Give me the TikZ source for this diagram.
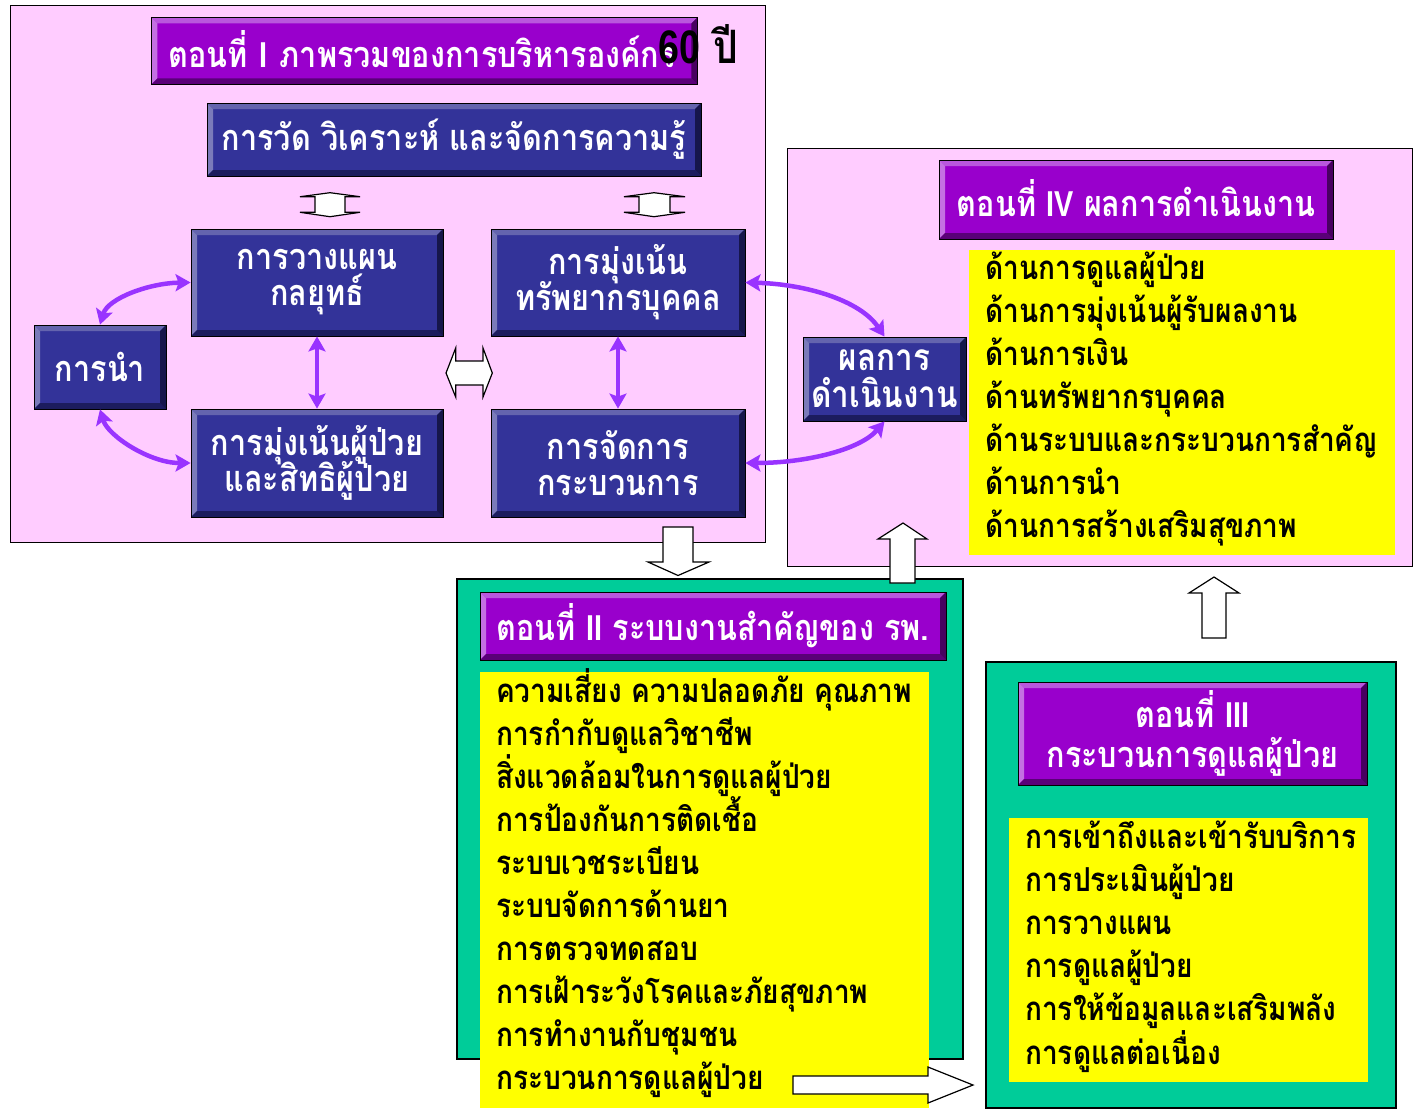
\documentclass[tikz,border=0pt]{standalone}
\usepackage{fontspec}
\newfontfamily\thai[Script=Thai,FakeStretch=0.85]{Loma}
\newfontfamily\latin[FakeStretch=0.8]{Liberation Sans}
\usetikzlibrary{arrows.meta,calc}
\lineskiplimit=-1000pt
\newcommand\rn[1]{{\latin\bfseries #1}}

\definecolor{pinkbg}{HTML}{FFCCFF}
\definecolor{navy}{HTML}{333399}
\definecolor{navylt}{HTML}{6464AE}
\definecolor{navydk}{HTML}{1C1C5E}
\definecolor{purp}{HTML}{9900CC}
\definecolor{purplt}{HTML}{B957DD}
\definecolor{purpdk}{HTML}{5A0078}
\definecolor{panelgreen}{HTML}{00CC99}
\definecolor{hiyellow}{HTML}{FFFF00}
\definecolor{linkpurple}{HTML}{9933FF}

\tikzset{
  bevel/.style n args={3}{
    fill=#1, draw=black, line width=0.8pt, inner sep=0pt,
    path picture={
      \coordinate (nw) at (path picture bounding box.north west);
      \coordinate (ne) at (path picture bounding box.north east);
      \coordinate (se) at (path picture bounding box.south east);
      \coordinate (sw) at (path picture bounding box.south west);
      \fill[#2] (nw) -- (ne) -- ($(ne)+(-6,6)$) -- ($(nw)+(6,6)$) -- cycle;
      \fill[#2!85!white] (nw) -- ($(nw)+(6,6)$) -- ($(sw)+(6,-6)$) -- (sw) -- cycle;
      \fill[#3] (sw) -- ($(sw)+(6,-6)$) -- ($(se)+(-6,-6)$) -- (se) -- cycle;
      \fill[#3!80!black] (ne) -- (se) -- ($(se)+(-6,-6)$) -- ($(ne)+(-6,6)$) -- cycle;
    }},
  navybox/.style={bevel={navy}{navylt}{navydk}, text=white, align=center,
    font=\thai\bfseries\fontsize{36}{36}\selectfont},
  purpbox/.style={bevel={purp}{purplt}{purpdk}, text=white, align=center,
    font=\thai\bfseries\fontsize{36}{40}\selectfont},
  pinkpanel/.style={fill=pinkbg, draw=black, line width=1pt},
  greenpanel/.style={fill=panelgreen, draw=black, line width=1.5pt},
  yellowbox/.style={fill=hiyellow, draw=none, inner sep=0pt},
  listline/.style={anchor=base west, inner sep=0pt, text=black,
    font=\thai\bfseries\fontsize{33}{36}\selectfont},
  link/.style={draw=linkpurple, line width=4.5pt,
    {Stealth[length=15pt,width=17pt,inset=3pt]}-{Stealth[length=15pt,width=17pt,inset=3pt]}},
  hollow/.style={fill=white, draw=black, line width=1.2pt, line join=miter},
}

\begin{document}
\begin{tikzpicture}[x=1pt,y=-1pt]
\fill[white] (0,0) rectangle (1413,1112);
\useasboundingbox (0,0) rectangle (1413,1112);

% panels
\node[pinkpanel, anchor=north west, minimum width=755pt, minimum height=537pt] (part1) at (10,5) {};
\node[pinkpanel, anchor=north west, minimum width=625pt, minimum height=418pt] (part4) at (787,148) {};
\node[greenpanel, anchor=north west, minimum width=506pt, minimum height=480pt] (part2) at (456,578) {};
\node[greenpanel, anchor=north west, minimum width=410pt, minimum height=446pt] (part3) at (985,661) {};

% part I
\node[purpbox, anchor=north west, minimum width=546pt, minimum height=67pt,
      text width=512pt, align=left] (t1) at (151,17)
      {\raisebox{4pt}{ตอนที่ \rn{I} ภาพรวมของการบริหารองค์กร}};
\node[text=black, inner sep=0pt, font=\thai\bfseries\fontsize{46}{50}\selectfont] (sixty) at (698,44)
      {{\latin\fontsize{47}{50}\selectfont 60} ปี};

\node[navybox, minimum width=494pt, minimum height=73pt] (measure) at (454,139.5) {การวัด วิเคราะห์ และจัดการความรู้};
\node[navybox, minimum width=252pt, minimum height=107pt] (plan) at (317,282.5) {การวางแผน\\กลยุทธ์};
\node[navybox, minimum width=254pt, minimum height=107pt] (hr) at (618,282.5) {การมุ่งเน้น\\ทรัพยากรบุคคล};
\node[navybox, minimum width=132pt, minimum height=84pt] (lead) at (100,367) {การนำ};
\node[navybox, minimum width=252pt, minimum height=108pt] (patient) at (317,463) {การมุ่งเน้นผู้ป่วย\\และสิทธิผู้ป่วย};
\node[navybox, minimum width=254pt, minimum height=108pt] (process) at (618,463) {การจัดการ\\กระบวนการ};
\node[navybox, minimum width=163pt, minimum height=84pt, font=\thai\bfseries\fontsize{37}{37}\selectfont]
      (result) at (884.5,379) {ผลการ\\ดำเนินงาน};

% links between the categories
\draw[link] (lead.north) .. controls (108,298) and (150,283) .. (plan.west);
\draw[link] (lead.south) .. controls (108,436) and (150,463) .. (patient.west);
\draw[link] (plan.south) -- (patient.north);
\draw[link] (hr.south) -- (process.north);
\draw[link] (hr.east) .. controls (805,284) and (860,300) .. (result.north);
\draw[link] (process.east) .. controls (805,463) and (860,450) .. (result.south);

% hollow two-way arrows
\draw[hollow] (300,196.7) -- (330,192.7) -- (360,196.7) -- (345,196.7) -- (345,212.3) -- (360,212.3)
  -- (330,216.7) -- (300,212.3) -- (315,212.3) -- (315,196.7) -- cycle;
\draw[hollow] (624,196.7) -- (654,192.7) -- (685,196.7) -- (670,196.7) -- (670,212.3) -- (685,212.3)
  -- (654,216.7) -- (624,212.3) -- (639,212.3) -- (639,196.7) -- cycle;
\draw[hollow] (446,373) -- (455.7,348) -- (455.7,361) -- (483,361) -- (483,348) -- (492.3,373)
  -- (483,397) -- (483,385) -- (455.7,385) -- (455.7,397) -- cycle;

% part IV
\node[purpbox, minimum width=394pt, minimum height=79pt] (t4) at (1136,199.5)
      {\raisebox{4pt}{ตอนที่ \rn{IV} ผลการดำเนินงาน}};
\node[yellowbox, anchor=north west, minimum width=426pt, minimum height=305pt] (y4) at (969,250) {};
\foreach \txt [count=\i] in {ด้านการดูแลผู้ป่วย, ด้านการมุ่งเน้นผู้รับผลงาน, ด้านการเงิน,
  ด้านทรัพยากรบุคคล, ด้านระบบและกระบวนการสำคัญ, ด้านการนำ, ด้านการสร้างเสริมสุขภาพ}
  \node[listline] (y4-\i) at (985,{279+43.1*(\i-1)}) {\txt};

% part II
\node[purpbox, minimum width=466pt, minimum height=68pt] (t2) at (713,626)
      {\raisebox{3pt}{ตอนที่ \rn{II} ระบบงานสำคัญของ รพ.}};
\node[yellowbox, anchor=north west, minimum width=449pt, minimum height=436pt] (y2) at (480,672) {};
\foreach \txt [count=\i] in {ความเสี่ยง ความปลอดภัย คุณภาพ, การกำกับดูแลวิชาชีพ,
  สิ่งแวดล้อมในการดูแลผู้ป่วย, การป้องกันการติดเชื้อ, ระบบเวชระเบียน, ระบบจัดการด้านยา,
  การตรวจทดสอบ, การเฝ้าระวังโรคและภัยสุขภาพ, การทำงานกับชุมชน, กระบวนการดูแลผู้ป่วย}
  \node[listline] (y2-\i) at (496,{702+43.1*(\i-1)}) {\txt};

% part III
\node[purpbox, minimum width=349pt, minimum height=103pt] (t3) at (1192.5,733.5)
      {ตอนที่ \rn{III}\\กระบวนการดูแลผู้ป่วย};
\node[yellowbox, anchor=north west, minimum width=359pt, minimum height=264pt] (y3) at (1009,818) {};
\foreach \txt [count=\i] in {การเข้าถึงและเข้ารับบริการ, การประเมินผู้ป่วย, การวางแผน,
  การดูแลผู้ป่วย, การให้ข้อมูลและเสริมพลัง, การดูแลต่อเนื่อง}
  \node[listline] (y3-\i) at (1025,{848+43.2*(\i-1)}) {\txt};

% block arrows between the parts
\draw[hollow] (663,527) -- (693,527) -- (693,562) -- (709,562) -- (678,575.5) -- (648,562) -- (663,562) -- cycle;
\draw[hollow] (890,583) -- (890,539) -- (878,539) -- (903,523) -- (927,539) -- (915,539) -- (915,583) -- cycle;
\draw[hollow] (1202,638) -- (1202,593) -- (1189,593) -- (1214,577) -- (1239,593) -- (1226,593) -- (1226,638) -- cycle;
\draw[hollow] (793,1076) -- (928,1076) -- (928,1067) -- (973,1085) -- (928,1103) -- (928,1094) -- (793,1094) -- cycle;
\end{tikzpicture}
\end{document}
